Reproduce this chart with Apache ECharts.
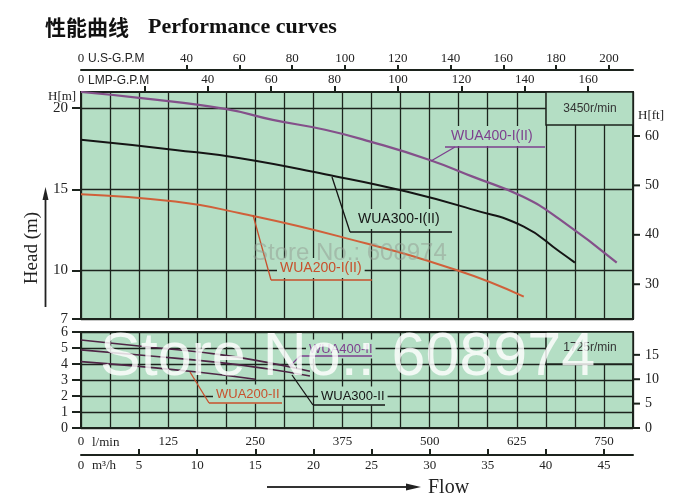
<!DOCTYPE html>
<html><head><meta charset="utf-8">
<script src="https://cdn.jsdelivr.net/npm/echarts@6/dist/echarts.min.js"></script>
<style>html,body{margin:0;padding:0;background:#fff}#c{width:695px;height:504px}</style>
</head><body><div id="c"></div>
<script>
// ---- data (flow in m3/h, head in m) ----
const wua400I_Q = [0, 5.2, 12.4, 16.5, 21.0, 24.9, 30.0, 33.7, 38.0, 41.2, 46.1];
const wua400I_H = [21.0, 20.62, 19.96, 19.28, 18.67, 17.94, 16.81, 15.78, 14.55, 13.14, 10.48];
const wua300I_Q = [0, 8.1, 13.7, 21.0, 28.0, 33.8, 38.1, 41.2, 42.5];
const wua300I_H = [18.05, 17.43, 16.92, 15.93, 14.86, 13.73, 12.70, 11.15, 10.48];
const wua200I_Q = [0, 8.1, 13.7, 22.3, 32.3, 38.1];
const wua200I_H = [14.70, 14.24, 13.52, 12.08, 10.02, 8.38];
const wua400II_Q = [0, 6, 11.8, 16, 19.7];
const wua400II_H = [5.5, 5.05, 4.6, 4.1, 3.55];
const wua300II_Q = [0, 6, 11.8, 16, 19.7];
const wua300II_H = [4.88, 4.5, 4.1, 3.7, 3.25];
const wua200II_Q = [0, 5, 10, 15];
const wua200II_H = [4.15, 3.85, 3.5, 3.05];

// ---- tick labels ----
const usGpmTicks = [40, 60, 80, 100, 120, 140, 160, 180, 200];
const usGpmLabels = [0, 40, 60, 80, 100, 120, 140, 160, 180, 200];
const impGpmTicks = [20, 40, 60, 80, 100, 120, 140, 160];
const impGpmLabels = [0, 40, 60, 80, 100, 120, 140, 160];
const lminLabels = [0, 125, 250, 375, 500, 625, 750];
const m3hTicks = [5, 10, 15, 20, 25, 30, 35, 40, 45];
const m3hLabels = [0, 5, 10, 15, 20, 25, 30, 35, 40, 45];
const headUpperLabels = [7, 10, 15, 20];
const ftUpperLabels = [30, 40, 50, 60];
const headLowerLabels = [0, 1, 2, 3, 4, 5, 6];
const ftLowerLabels = [0, 5, 10, 15];

// unit conversions
const QMAX = 47.5;
const TO_US = 4.40287, TO_IMP = 3.66615, TO_LMIN = 1000/60, TO_FT = 3.28084;

const GREEN = '#b4dec4';
const DK = '#1c231d';
const SERIF = '"Liberation Serif","DejaVu Serif",serif';
const SANS = '"Liberation Sans",Arial,sans-serif';
const zip = (a, b) => a.map((v, i) => [v, b[i]]);

const chart = echarts.init(document.getElementById('c'));
const lab = (sz, extra) => Object.assign({color:'#222', fontFamily:SERIF, fontSize:sz}, extra||{});
const axLine = {show:true, lineStyle:{color:DK, width:2}};
const split = {show:true, lineStyle:{color:DK, width:1.3}};

const option = {
  animation:false,
  backgroundColor:'#fff',
  grid:[
    {left:81, top:92, width:552, height:227, show:true, backgroundColor:GREEN, borderColor:DK, borderWidth:2},
    {left:81, top:332, width:552, height:96, show:true, backgroundColor:GREEN, borderColor:DK, borderWidth:2}
  ],
  xAxis:[
    {gridIndex:0, type:'value', min:0, max:QMAX, interval:2.5, position:'bottom', axisLine:axLine, axisTick:{show:false}, axisLabel:{show:false}, splitLine:split},
    {gridIndex:0, type:'value', min:0, max:QMAX*TO_IMP, position:'top', axisLine:axLine,
      axisTick:{show:true, customValues:impGpmTicks, length:6, lineStyle:{color:DK, width:2}},
      axisLabel:lab(13, {customValues:impGpmLabels, margin:6, showMinLabel:true}), splitLine:{show:false}},
    {gridIndex:0, type:'value', min:0, max:QMAX*TO_US, position:'top', offset:22, axisLine:axLine,
      axisTick:{show:true, customValues:usGpmTicks, length:5, lineStyle:{color:DK, width:2}},
      axisLabel:lab(13, {customValues:usGpmLabels, margin:5, showMinLabel:true}), splitLine:{show:false}},
    {gridIndex:1, type:'value', min:0, max:QMAX, interval:2.5, position:'bottom', axisLine:{show:false}, axisTick:{show:false}, axisLabel:{show:false}, splitLine:split},
    {gridIndex:1, type:'value', min:0, max:QMAX*TO_LMIN, position:'bottom', axisLine:axLine, axisTick:{show:false},
      axisLabel:lab(13, {customValues:lminLabels, margin:7, showMinLabel:true}), splitLine:{show:false}},
    {gridIndex:1, type:'value', min:0, max:QMAX, position:'bottom', offset:27, axisLine:axLine,
      axisTick:{show:true, inside:true, customValues:m3hTicks, length:6, lineStyle:{color:DK, width:2}},
      axisLabel:lab(13, {customValues:m3hLabels, margin:4, showMinLabel:true}), splitLine:{show:false}}
  ],
  yAxis:[
    {gridIndex:0, type:'value', min:7, max:21, interval:1, position:'left', axisLine:axLine,
      axisTick:{show:true, customValues:headUpperLabels, length:9, lineStyle:{color:DK, width:2}},
      axisLabel:lab(15, {customValues:headUpperLabels, margin:13}), splitLine:split},
    {gridIndex:0, type:'value', min:7*TO_FT, max:21*TO_FT, position:'right', axisLine:axLine,
      axisTick:{show:false},
      axisLabel:lab(14, {customValues:ftUpperLabels, margin:12}), splitLine:{show:false}},
    {gridIndex:1, type:'value', min:0, max:6, interval:1, position:'left', axisLine:axLine,
      axisTick:{show:true, length:9, lineStyle:{color:DK, width:2}},
      axisLabel:lab(14, {margin:13}), splitLine:split},
    {gridIndex:1, type:'value', min:0, max:6*TO_FT, position:'right', axisLine:axLine,
      axisTick:{show:false},
      axisLabel:lab(14, {customValues:ftLowerLabels, margin:12}), splitLine:{show:false}}
  ],
  series:[
    {name:'WUA400-I(II)', type:'line', xAxisIndex:0, yAxisIndex:0, data:zip(wua400I_Q, wua400I_H), smooth:true, symbol:'none', lineStyle:{color:'#84508a', width:2.2}, z:3},
    {name:'WUA300-I(II)', type:'line', xAxisIndex:0, yAxisIndex:0, data:zip(wua300I_Q, wua300I_H), smooth:true, symbol:'none', lineStyle:{color:'#151515', width:2}, z:3},
    {name:'WUA200-I(II)', type:'line', xAxisIndex:0, yAxisIndex:0, data:zip(wua200I_Q, wua200I_H), smooth:true, symbol:'none', lineStyle:{color:'#d0603a', width:2}, z:3},
    {name:'WUA400-II', type:'line', xAxisIndex:3, yAxisIndex:2, data:zip(wua400II_Q, wua400II_H), smooth:true, symbol:'none', lineStyle:{color:'#4e2545', width:1.6}, z:3},
    {name:'WUA300-II', type:'line', xAxisIndex:3, yAxisIndex:2, data:zip(wua300II_Q, wua300II_H), smooth:true, symbol:'none', lineStyle:{color:'#4e2545', width:1.6}, z:3},
    {name:'WUA200-II', type:'line', xAxisIndex:3, yAxisIndex:2, data:zip(wua200II_Q, wua200II_H), smooth:true, symbol:'none', lineStyle:{color:'#4e2545', width:1.6}, z:3}
  ],
  graphic:[]
};

const G = option.graphic;
function txt(x, y, text, font, fill, extra) {
  G.push({type:'text', x:x, y:y, z:10, style:Object.assign({text:text, font:font, fill:fill, verticalAlign:'middle'}, extra||{})});
}
function line(points, stroke, w, z) {
  G.push({type:'polyline', z:z||9, shape:{points:points}, style:{stroke:stroke, lineWidth:w||1.3, fill:null}});
}
// title
txt(45, 27, '性能曲线', 'bold 21px "Noto Sans CJK SC"', '#111');
txt(148, 27, 'Performance curves', 'bold 22px ' + SERIF, '#111');
// axis names
txt(88, 59, 'U.S-G.P.M', '12px ' + SANS, '#222');
txt(88, 81, 'LMP-G.P.M', '12px ' + SANS, '#222');
txt(48, 97, 'H[m]', '13px ' + SERIF, '#222');
txt(638, 116, 'H[ft]', '13px ' + SERIF, '#222');
txt(92, 443, 'l/min', '13px ' + SERIF, '#222');
txt(92, 466, 'm³/h', '13px ' + SERIF, '#222');
// speed boxes
G.push({type:'rect', z:8, shape:{x:546, y:92, width:87, height:33}, style:{fill:GREEN, stroke:DK, lineWidth:1.5}});
txt(590, 109, '3450r/min', '12px ' + SANS, '#333', {align:'center'});
G.push({type:'rect', z:8, shape:{x:546, y:332, width:87, height:32}, style:{fill:GREEN, stroke:DK, lineWidth:1.5}});
txt(590, 348, '1725r/min', '12px ' + SANS, '#333', {align:'center'});
// Head (m) and arrow
G.push({type:'text', x:32, y:248, rotation:Math.PI/2, z:10, style:{text:'Head (m)', font:'19px ' + SERIF, fill:'#222', align:'center', verticalAlign:'middle'}});
line([[45.5, 307], [45.5, 197]], '#222', 1.8);
G.push({type:'polygon', z:10, shape:{points:[[45.5, 187], [42.5, 200], [48.5, 200]]}, style:{fill:'#222'}});
// Flow arrow
line([[267, 487], [410, 487]], '#333', 2);
G.push({type:'polygon', z:10, shape:{points:[[421, 487], [406, 483.5], [406, 490.5]]}, style:{fill:'#222'}});
txt(428, 488, 'Flow', '20px ' + SERIF, '#222');
// curve labels
function tag(x, y, text, color, font, under, leader) {
  G.push({type:'text', x:x, y:y, z:10, style:{text:text, font:font, fill:color, verticalAlign:'middle', backgroundColor:GREEN, padding:[3, 3, 3, 3]}});
  line(under, color, 1.3, 10);
  line(leader, color, 1.3, 10);
}
tag(448, 136, 'WUA400-I(II)', '#7d3f8e', '14px ' + SANS, [[445, 147], [545, 147]], [[455, 147], [431, 161]]);
tag(355, 219, 'WUA300-I(II)', '#151515', '14px ' + SANS, [[350, 232], [452, 232]], [[350, 232], [332, 177]]);
tag(277, 268, 'WUA200-I(II)', '#c8502c', '14px ' + SANS, [[271, 280], [372, 280]], [[271, 280], [253, 215]]);
tag(306, 349, 'WUA400-II', '#7d3f8e', '13px ' + SANS, [[300, 356], [372, 356]], [[300, 356], [290, 366]]);
tag(318, 396, 'WUA300-II', '#151515', '13px ' + SANS, [[313, 405], [385, 405]], [[313, 405], [292, 375]]);
tag(213, 394, 'WUA200-II', '#c8502c', '13px ' + SANS, [[209, 403], [282, 403]], [[209, 403], [190, 372]]);
// watermarks
G.push({type:'text', x:252, y:253, z:20, style:{text:'Store No.: 608974', font:'24px ' + SANS, fill:'rgba(150,160,150,0.55)', verticalAlign:'middle'}});
G.push({type:'text', x:100, y:358, z:20, style:{text:'Store No.: 608974', font:'61px ' + SANS, fill:'rgba(255,255,255,0.82)', verticalAlign:'middle'}});

chart.setOption(option);

// right-hand ft ticks, placed through the axes' own scales
const xRight = chart.convertToPixel({xAxisIndex:0}, QMAX);
ftUpperLabels.forEach(v => {
  const y = chart.convertToPixel({yAxisIndex:1}, v);
  G.push({type:'line', z:10, shape:{x1:xRight, y1:y, x2:xRight + 7, y2:y}, style:{stroke:DK, lineWidth:2}});
});
ftLowerLabels.forEach(v => {
  const y = chart.convertToPixel({yAxisIndex:3}, v);
  G.push({type:'line', z:10, shape:{x1:xRight, y1:y, x2:xRight + 7, y2:y}, style:{stroke:DK, lineWidth:2}});
});
chart.setOption({graphic:G});
</script>
</body></html>
